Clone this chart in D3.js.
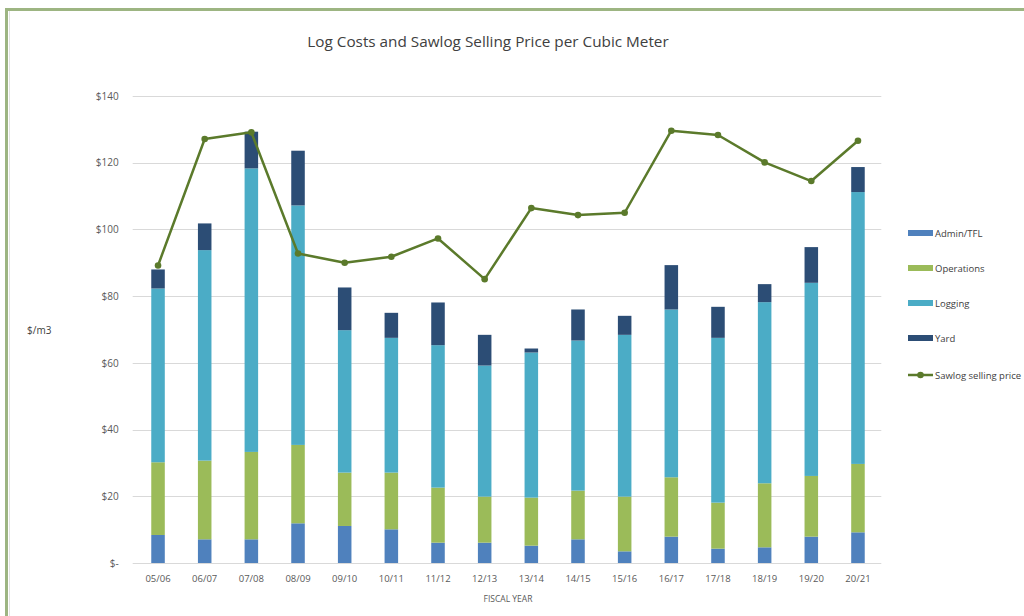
<!DOCTYPE html>
<html>
<head>
<meta charset="utf-8">
<script src="https://cdn.jsdelivr.net/npm/d3@7"></script>
<style>
  body { margin: 0; background: #fff; }
  svg { display: block; font-family: "Open Sans", "Liberation Sans", sans-serif; }
</style>
</head>
<body>
<div id="chart"></div>
<script>
// Fiscal years on the x axis
const years = ['05/06', '06/07', '07/08', '08/09', '09/10', '10/11', '11/12', '12/13',
  '13/14', '14/15', '15/16', '16/17', '17/18', '18/19', '19/20', '20/21'];

// Cost components, $/m3 (stacked)
const adminTfl = [8.4, 7.1, 7.1, 11.9, 11.1, 10.1, 6.1, 6.1, 5.2, 7.1, 3.5, 7.9, 4.3, 4.7, 7.9, 9.2];
const operations = [21.8, 23.6, 26.2, 23.5, 16.0, 17.0, 16.5, 13.8, 14.4, 14.6, 16.4, 17.8, 13.8, 19.2, 18.2, 20.5];
const logging = [52.1, 63.1, 85.0, 71.8, 42.7, 40.4, 42.7, 39.3, 43.5, 45.0, 48.5, 50.3, 49.4, 54.3, 57.9, 81.5];
const yard = [5.7, 8.0, 11.0, 16.4, 12.8, 7.5, 12.8, 9.2, 1.2, 9.3, 5.7, 13.3, 9.3, 5.4, 10.7, 7.5];

// Sawlog selling price, $/m3
const sawlogPrice = [89.2, 127.1, 129.1, 92.8, 90.0, 91.8, 97.3, 85.1, 106.4, 104.3, 105.0,
  129.6, 128.3, 120.1, 114.5, 126.6];

const yTicks = [0, 20, 40, 60, 80, 100, 120, 140];

const seriesKeys = ['Admin/TFL', 'Operations', 'Logging', 'Yard'];
const seriesColors = ['#4f81bd', '#9bbb59', '#4bacc6', '#2c4d75'];
const lineColor = '#5b7a2b';

const width = 1024;
const height = 616;
const plot = { left: 134.7, right: 881.3, top: 96, bottom: 563 };

const rows = years.map((y, i) => ({
  year: y,
  'Admin/TFL': adminTfl[i],
  'Operations': operations[i],
  'Logging': logging[i],
  'Yard': yard[i]
}));

const svg = d3.select('#chart').append('svg')
    .attr('width', width)
    .attr('height', height);

/* Frame */
svg.append('rect')
    .attr('x', 6.5).attr('y', 9.5)
    .attr('width', width + 20).attr('height', height + 20)
    .attr('fill', 'none')
    .attr('stroke', '#9db582')
    .attr('stroke-width', 3);
svg.append('line')
    .attr('x1', 9.5).attr('x2', 9.5)
    .attr('y1', 11).attr('y2', height)
    .attr('stroke', '#e2e2e2');

const x = d3.scaleBand()
    .domain(years)
    .range([plot.left, plot.right])
    .paddingInner(0.71)
    .paddingOuter(0.355);

const y = d3.scaleLinear()
    .domain([0, 140])
    .range([plot.bottom, plot.top]);

/* Gridlines */
svg.append('g')
    .selectAll('line')
    .data(yTicks)
    .join('line')
    .attr('x1', plot.left - 2)
    .attr('x2', plot.right)
    .attr('y1', d => Math.round(y(d)) + 0.5)
    .attr('y2', d => Math.round(y(d)) + 0.5)
    .attr('stroke', '#d9d9d9')
    .attr('stroke-width', 1);

/* Y axis labels */
svg.append('g')
    .attr('transform', `translate(${plot.left - 13}, 0)`)
    .call(d3.axisLeft(y).tickValues(yTicks).tickSize(0)
        .tickFormat(d => d === 0 ? '$-' : `$${d}`))
    .call(g => g.select('.domain').remove())
    .call(g => g.selectAll('text')
        .attr('fill', '#595959')
        .attr('font-size', 10)
        .attr('font-family', '"Open Sans", sans-serif'));

/* X axis labels */
svg.append('g')
    .attr('transform', `translate(0, ${plot.bottom + 9})`)
    .call(d3.axisBottom(x).tickSize(0))
    .call(g => g.select('.domain').remove())
    .call(g => g.selectAll('text')
        .attr('fill', '#595959')
        .attr('font-size', 9.5)
        .attr('font-family', '"Open Sans", sans-serif'));

/* Stacked bars */
const stacked = d3.stack().keys(seriesKeys)(rows);
svg.append('g')
    .selectAll('g')
    .data(stacked)
    .join('g')
    .attr('fill', (d, i) => seriesColors[i])
    .selectAll('rect')
    .data(d => d)
    .join('rect')
    .attr('x', d => x(d.data.year))
    .attr('width', x.bandwidth())
    .attr('y', d => y(d[1]))
    .attr('height', d => y(d[0]) - y(d[1]));

/* Sawlog selling price line */
const line = d3.line()
    .x((d, i) => x(years[i]) + x.bandwidth() / 2)
    .y(d => y(d));

svg.append('path')
    .datum(sawlogPrice)
    .attr('d', line)
    .attr('fill', 'none')
    .attr('stroke', lineColor)
    .attr('stroke-width', 2.5)
    .attr('stroke-linejoin', 'round');

svg.append('g')
    .selectAll('circle')
    .data(sawlogPrice)
    .join('circle')
    .attr('cx', (d, i) => x(years[i]) + x.bandwidth() / 2)
    .attr('cy', d => y(d))
    .attr('r', 3.3)
    .attr('fill', lineColor);

/* Title & axis titles */
svg.append('text')
    .attr('x', 488).attr('y', 47)
    .attr('text-anchor', 'middle')
    .attr('font-size', 15.3)
    .attr('fill', '#404040')
    .text('Log Costs and Sawlog Selling Price per Cubic Meter');

svg.append('text')
    .attr('x', 27).attr('y', 334)
    .attr('font-size', 10)
    .attr('fill', '#404040')
    .text('$/m3');

svg.append('text')
    .attr('x', (plot.left + plot.right) / 2).attr('y', 602)
    .attr('text-anchor', 'middle')
    .attr('font-size', 8.5)
    .attr('fill', '#595959')
    .text('FISCAL YEAR');

/* Legend */
const legendY = [233, 268, 303, 338];
const legend = svg.append('g');
seriesKeys.forEach((k, i) => {
  legend.append('rect')
      .attr('x', 908).attr('y', legendY[i] - 3)
      .attr('width', 25).attr('height', 6)
      .attr('fill', seriesColors[i]);
  legend.append('text')
      .attr('x', 935).attr('y', legendY[i] + 3.5)
      .attr('font-size', 9.5)
      .attr('fill', '#404040')
      .text(k);
});
legend.append('line')
    .attr('x1', 908).attr('x2', 933)
    .attr('y1', 375).attr('y2', 375)
    .attr('stroke', lineColor)
    .attr('stroke-width', 2.5);
legend.append('circle')
    .attr('cx', 920.5).attr('cy', 375)
    .attr('r', 3.3)
    .attr('fill', lineColor);
legend.append('text')
    .attr('x', 935).attr('y', 378.5)
    .attr('font-size', 9.5)
    .attr('fill', '#404040')
    .text('Sawlog selling price');
</script>
</body>
</html>
